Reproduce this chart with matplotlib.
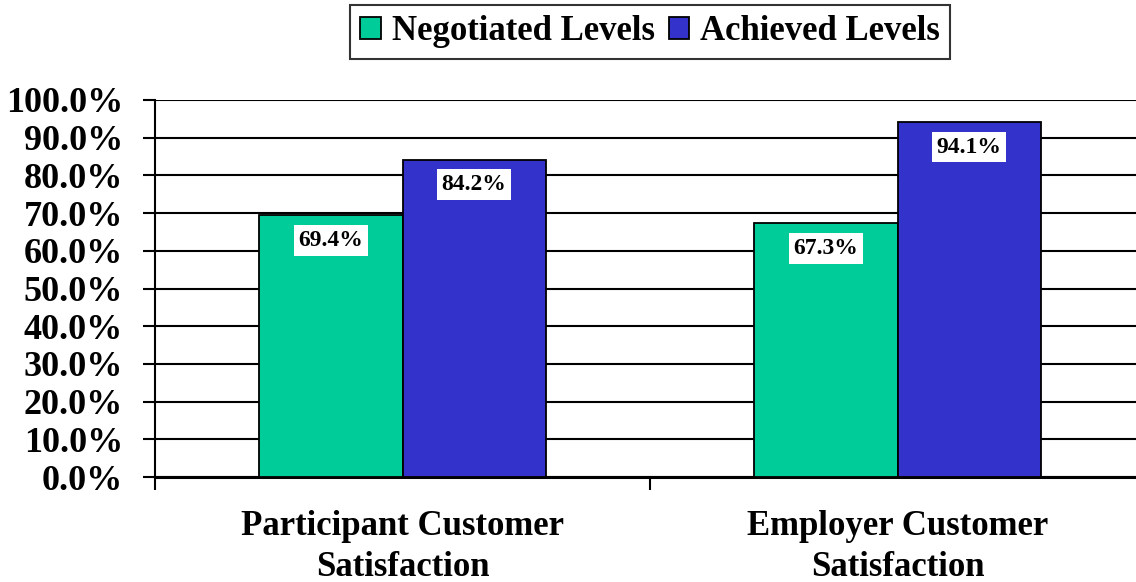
import matplotlib
import matplotlib.pyplot as plt
import numpy as np
from matplotlib.ticker import FuncFormatter

plt.switch_backend('agg')
plt.rcParams['font.family'] = ['Liberation Serif', 'DejaVu Serif']
plt.rcParams['font.weight'] = 'bold'

categories = ['Participant Customer\nSatisfaction', 'Employer Customer\nSatisfaction']
negotiated = [69.4, 67.3]
achieved = [84.2, 94.1]
series_names = ['Negotiated Levels', 'Achieved Levels']
colors = ['#00CC99', '#3333CC']

fig = plt.figure(figsize=(11.36, 5.82), dpi=100)
ax = fig.add_axes([155/1136, 105/582, 990/1136, 377/582])

x = np.arange(len(categories))
w = 0.289
b1 = ax.bar(x - w/2, negotiated, w, color=colors[0], edgecolor='black', linewidth=1.3,
            label=series_names[0], zorder=3)
b2 = ax.bar(x + w/2, achieved, w, color=colors[1], edgecolor='black', linewidth=1.3,
            label=series_names[1], zorder=3)

# value labels inside bar tops, white boxes
for bars, vals in [(b1, negotiated), (b2, achieved)]:
    for r, v in zip(bars, vals):
        ax.annotate('%.1f%%' % v, (r.get_x() + r.get_width()/2, v),
                    xytext=(0, -18), textcoords='offset points',
                    ha='center', va='center', fontsize=17, fontweight='bold',
                    bbox=dict(boxstyle='square,pad=0.2', fc='white', ec='none'),
                    zorder=5)

ax.set_ylim(0, 100)
ax.set_xlim(-0.5, 1.5)
ax.set_yticks(np.arange(0, 101, 10))
ax.yaxis.set_major_formatter(FuncFormatter(lambda v, p: '%.1f%%' % v))
ax.yaxis.grid(True, color='black', linewidth=1.5, zorder=0)
ax.tick_params(axis='y', labelsize=26, length=9, width=1.5, pad=14)

ax.set_xticks(x)
ax.set_xticklabels(categories, fontsize=25, fontweight='bold', linespacing=1.3)
ax.set_xticks([-0.5, 0.5, 1.5], minor=True)
ax.tick_params(axis='x', which='major', length=0, pad=24)
ax.tick_params(axis='x', which='minor', length=9, width=1.5)

for s in ['top', 'right']:
    ax.spines[s].set_visible(False)
ax.spines['left'].set_linewidth(1.5)
ax.spines['bottom'].set_linewidth(2.2)

leg = ax.legend(loc='upper center', bbox_to_anchor=(0.5, 1 + 95/377), ncol=2,
                frameon=True, fancybox=False, edgecolor='black', fontsize=25,
                handlelength=0.6, handleheight=0.6, handletextpad=0.3,
                columnspacing=0.4, borderpad=0.3, borderaxespad=0)
leg.get_frame().set_linewidth(1.5)
for t in leg.get_texts():
    t.set_fontweight('bold')

plt.savefig('out.png', dpi=100)
